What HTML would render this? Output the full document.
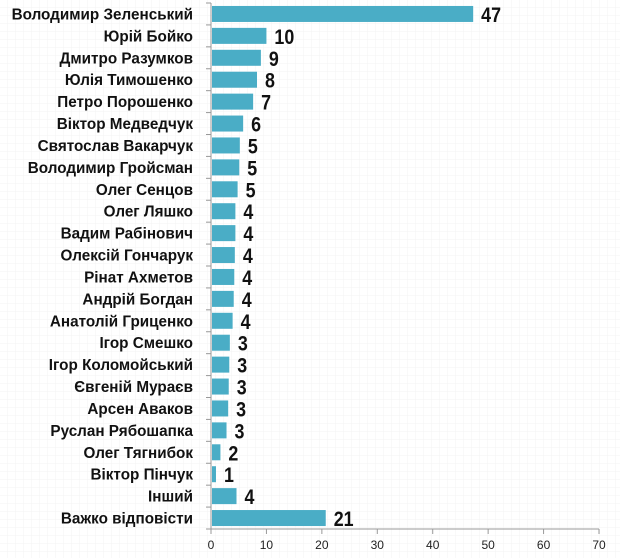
<!DOCTYPE html>
<html><head><meta charset="utf-8"><style>
html,body{margin:0;padding:0;background:#fff;}
body{width:620px;height:558px;overflow:hidden;}
svg{display:block;}
text{font-family:"Liberation Sans",sans-serif;}
</style></head><body>
<svg id="chart" width="620" height="558" xmlns="http://www.w3.org/2000/svg">
<defs><pattern id="grid" width="8" height="8" patternUnits="userSpaceOnUse"><path d="M8 0V8H0" fill="none" stroke="#f3f3f3" stroke-width="1"/></pattern></defs>
<rect width="620" height="558" fill="url(#grid)"/>
<g id="bars"></g>
</svg>
<script>
const categories=["Володимир Зеленський","Юрій Бойко","Дмитро Разумков","Юлія Тимошенко","Петро Порошенко","Віктор Медведчук","Святослав Вакарчук","Володимир Гройсман","Олег Сенцов","Олег Ляшко","Вадим Рабінович","Олексій Гончарук","Рінат Ахметов","Андрій Богдан","Анатолій Гриценко","Ігор Смешко","Ігор Коломойський","Євгеній Мураєв","Арсен Аваков","Руслан Рябошапка","Олег Тягнибок","Віктор Пінчук","Інший","Важко відповісти"];
const values=[47.3,10,9,8.3,7.6,5.8,5.2,5.1,4.8,4.4,4.4,4.3,4.2,4.1,3.9,3.4,3.3,3.2,3.1,2.8,1.7,0.9,4.6,20.7];
const valueLabels=["47","10","9","8","7","6","5","5","5","4","4","4","4","4","4","3","3","3","3","3","2","1","4","21"];
const ticks=[0,10,20,30,40,50,60,70];
const NS="http://www.w3.org/2000/svg";
const svg=document.getElementById('bars');
const x0=211,x1=599,y0=3,y1=529;
const xs=v=>x0+v/70*(x1-x0);
const band=(y1-y0)/categories.length;
const ys=i=>y0+i*band;
function mk(tag,attrs,txt){const e=document.createElementNS(NS,tag);for(const k in attrs)e.setAttribute(k,attrs[k]);if(txt!==undefined)e.textContent=txt;svg.appendChild(e);return e;}
let e;
e=mk('line',{x1:x0,x2:x0,y1:y0,y2:y1,stroke:'#999','stroke-width':1});


e=mk('line',{x1:x0,x2:x1,y1:y1,y2:y1,stroke:'#999','stroke-width':1});


for(let i=0;i<=categories.length;i++){
  e=mk('line',{x1:x0-5,x2:x0,y1:ys(i),y2:ys(i),stroke:'#999'});
  
  
}
ticks.forEach(t=>{
  e=mk('line',{x1:xs(t),x2:xs(t),y1:y1,y2:y1+5,stroke:'#999'});
  
  
  e=mk('text',{x:xs(t),y:y1+20,'text-anchor':'middle','font-size':12,fill:'#222'},String(t));
  
  
});
categories.forEach((c,i)=>{
  const cy=ys(i)+band/2;
  e=mk('text',{x:193,y:cy+5.5,'text-anchor':'end','font-size':15.5,'font-weight':'bold',fill:'#111'},c);
  e.setAttribute('transform','translate(193,0) scale(0.985,1) translate(-193,0)');
  
  
  e=mk('rect',{x:x0+1,y:cy-8,width:Math.max(0,xs(values[i])-x0-1),height:16,fill:'#4aadc6'});
  
  
  const lx=xs(values[i])+8;
  e=mk('text',{x:lx,y:cy+8,'font-size':21,'font-weight':'bold',fill:'#111'},valueLabels[i]);
  e.setAttribute('transform',`translate(${lx},0) scale(0.85,1) translate(${-lx},0)`);
  
  
});
</script>
</body></html>
